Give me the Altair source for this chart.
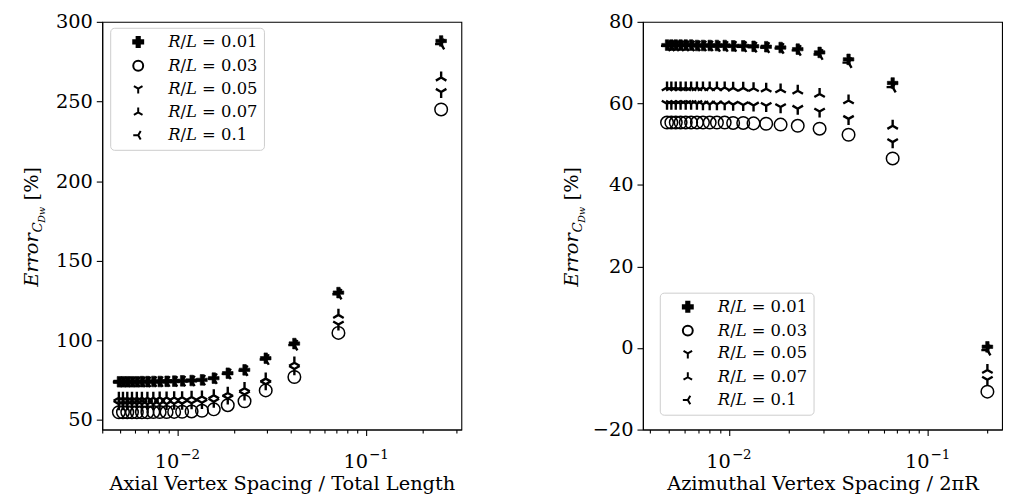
import altair as alt
import pandas as pd

series = ["0.01", "0.03", "0.05", "0.07", "0.1"]

# ---- Left panel: axial vertex spacing / total length
axial_x = [0.25, 0.0714, 0.0417, 0.0294, 0.0227, 0.0185, 0.0156, 0.0135, 0.0119, 0.0106,
           0.00962, 0.00877, 0.00806, 0.00746, 0.00694, 0.00649, 0.00610, 0.00575, 0.00543,
           0.00515, 0.00490]
axial_y_001 = [288, 130, 98, 88.8, 81.5, 79.4, 76.3, 75.2, 74.8, 74.6, 74.4, 74.3, 74.2, 74.2,
               74.1, 74.1, 74.0, 74.0, 74.0, 74.0, 74.0]
axial_y_003 = [245, 104.7, 77.0, 68.6, 61.8, 59.3, 56.7, 55.8, 55.4, 55.2, 55.1, 55.0, 55.0,
               55.0, 54.9, 54.9, 54.9, 54.9, 54.9, 54.9, 54.9]
axial_y_005 = [256, 110, 82, 72.5, 66, 63.5, 61.5, 60.8, 60.5, 60.3, 60.2, 60.1, 60.1, 60.0,
               60.0, 60.0, 60.0, 60.0, 60.0, 60.0, 60.0]
axial_y_007 = [265, 116, 86, 76, 70, 67, 65.5, 64.8, 64.5, 64.3, 64.2, 64.1, 64.1, 64.0,
               64.0, 64.0, 64.0, 64.0, 64.0, 64.0, 64.0]
axial_y_010 = [286, 129, 97, 88, 81, 79, 76, 75, 74.6, 74.4, 74.3, 74.2, 74.1, 74.1, 74.0,
               74.0, 73.9, 73.9, 73.9, 73.9, 73.9]

# ---- Right panel: azimuthal vertex spacing / 2 pi R
azim_x = [0.2, 0.0667, 0.04, 0.0286, 0.0222, 0.0182, 0.0154, 0.0133, 0.0118, 0.0105, 0.00952,
          0.0087, 0.008, 0.0074, 0.0069, 0.00645, 0.00606, 0.00571, 0.0054, 0.00513, 0.00488]
azim_y_001 = [0.3, 65.0, 70.8, 72.5, 73.3, 73.7, 73.9, 74.0, 74.1, 74.1, 74.2, 74.2, 74.2,
              74.2, 74.2, 74.3, 74.3, 74.3, 74.3, 74.3, 74.3]
azim_y_003 = [-10.7, 46.5, 52.3, 53.8, 54.5, 54.8, 55.0, 55.1, 55.2, 55.2, 55.3, 55.3, 55.3,
              55.3, 55.3, 55.3, 55.3, 55.3, 55.3, 55.3, 55.3]
azim_y_005 = [-7.8, 50.5, 56.2, 58.0, 58.7, 59.1, 59.4, 59.5, 59.6, 59.7, 59.8, 59.8, 59.8,
              59.8, 59.9, 59.9, 59.9, 59.9, 59.9, 59.9, 59.9]
azim_y_007 = [-5.4, 54.5, 60.7, 62.3, 63.1, 63.4, 63.6, 63.7, 63.8, 63.8, 63.9, 63.9, 63.9,
              63.9, 63.9, 63.9, 63.9, 63.9, 63.9, 63.9, 63.9]
azim_y_010 = [-0.5, 64.0, 70.0, 72.0, 73.0, 73.5, 73.7, 73.8, 73.9, 74.0, 74.0, 74.0, 74.1,
              74.1, 74.1, 74.1, 74.1, 74.1, 74.1, 74.1, 74.1]

# decade tick labels (10^-2, 10^-1)
decade_values = [0.01, 0.1]
decade_base = ["10", "10"]
decade_exp = ["−2", "−1"]

FONT = "DejaVu Serif"
FS = 19.5
PLUS = ("M-1,-0.32L-0.32,-0.32L-0.32,-1L0.32,-1L0.32,-0.32L1,-0.32L1,0.32L0.32,0.32"
        "L0.32,1L-0.32,1L-0.32,0.32L-1,0.32Z")
TRI_DOWN = "M0,0L0,1M0,0L-0.866,-0.5M0,0L0.866,-0.5"
TRI_UP = "M0,0L0,-1M0,0L-0.866,0.5M0,0L0.866,0.5"
TRI_LEFT = "M0,0L-1,0M0,0L0.5,-0.866M0,0L0.5,0.866"
shapes = [PLUS, "circle", TRI_DOWN, TRI_UP, TRI_LEFT]
fills = ["black", "transparent", "black", "black", "black"]
strokes = ["black"] * 5
styles = [dict(size=115, strokeWidth=0.6), dict(size=160, strokeWidth=1.5),
          dict(size=150, strokeWidth=2.4), dict(size=150, strokeWidth=2.4),
          dict(size=150, strokeWidth=2.4)]

minor_ticks = [m * 10.0 ** e for e in (-3, -2, -1) for m in range(1, 10)]
decade_test = ("abs(datum.value-0.001)<1e-9 || abs(datum.value-0.01)<1e-9 || "
               "abs(datum.value-0.1)<1e-9")

H = 411


def panel(xs, ys_list, xdom, ydom, yticks, xtitle, lx, ly):
    x_ticks = [t for t in minor_ticks if xdom[0] <= t <= xdom[1]]
    xenc = alt.X("x:Q",
                 scale=alt.Scale(type="log", domain=xdom, nice=False),
                 axis=alt.Axis(title=xtitle, values=x_ticks, labels=False,
                               tickSize={"condition": {"test": decade_test, "value": 6},
                                         "value": 3.5},
                               titlePadding=39, grid=False))
    yenc = alt.Y("y:Q", scale=alt.Scale(domain=ydom, nice=False, zero=False),
                 axis=alt.Axis(title=None, values=yticks, grid=False, tickSize=6))
    leg = alt.Legend(title=None, orient="none", legendX=lx, legendY=ly,
                     labelExpr="'𝑅/𝐿 = ' + datum.label")
    shape_scale = alt.Scale(domain=series, range=shapes)
    fill_scale = alt.Scale(domain=series, range=fills)
    stroke_scale = alt.Scale(domain=series, range=strokes)
    layers = []
    for s, ys, st in zip(series, ys_list, styles):
        df = pd.DataFrame({"x": xs, "y": ys, "s": s})
        layers.append(
            alt.Chart(df).mark_point(filled=True, opacity=1, **st).encode(
                x=xenc, y=yenc,
                shape=alt.Shape("s:N", scale=shape_scale, legend=leg),
                fill=alt.Fill("s:N", scale=fill_scale, legend=leg),
                stroke=alt.Stroke("s:N", scale=stroke_scale, legend=leg),
            )
        )
    # decade tick labels with real superscripts
    dec = pd.DataFrame({"x": decade_values, "b": decade_base, "e": decade_exp})
    layers.append(
        alt.Chart(dec).mark_text(font=FONT, fontSize=FS, align="right", baseline="alphabetic",
                                 dx=2, color="black").encode(
            x=xenc, y=alt.value(H + 39), text="b:N")
    )
    layers.append(
        alt.Chart(dec).mark_text(font=FONT, fontSize=13.5, align="left", baseline="alphabetic",
                                 dx=3, color="black").encode(
            x=xenc, y=alt.value(H + 30), text="e:N")
    )
    # y-axis title built from pieces (italic Error with subscript C_Dw, then [%])
    one = pd.DataFrame({"t": [""]})
    pieces = [
        ("Error", FS, "italic", -65, 267),
        ("C", 13.6, "italic", -61, 212.4),
        ("Dw", 9.6, "italic", -58, 202.4),
        ("[%]", FS, "normal", -65, 180),
    ]
    for txt, fs, style, px, py in pieces:
        layers.append(
            alt.Chart(one).mark_text(text=txt, font=FONT, fontSize=fs, fontStyle=style,
                                     angle=270, align="left", baseline="alphabetic",
                                     color="black").encode(x=alt.value(px), y=alt.value(py))
        )
    return alt.layer(*layers).properties(width=362, height=H)


left = panel(axial_x, [axial_y_001, axial_y_003, axial_y_005, axial_y_007, axial_y_010],
             [0.0040, 0.32], [44, 300], [50, 100, 150, 200, 250, 300],
             "Axial Vertex Spacing / Total Length", 8, 6)
right = panel(azim_x, [azim_y_001, azim_y_003, azim_y_005, azim_y_007, azim_y_010],
              [0.00369, 0.237], [-20, 80], [-20, 0, 20, 40, 60, 80],
              "Azimuthal Vertex Spacing / 2πR", 17, 273)

chart = alt.hconcat(left, right, spacing=100).resolve_scale(
    shape="independent", fill="independent", stroke="independent",
    x="independent", y="independent"
).resolve_legend(shape="independent", fill="independent", stroke="independent").properties(
    padding={"left": 13, "top": 1, "right": 5, "bottom": 0}
).configure_view(stroke="black", strokeWidth=1.1).configure_axis(
    labelFont=FONT, titleFont=FONT, labelFontSize=FS, titleFontSize=FS,
    labelColor="black", titleColor="black", domainColor="black", tickColor="black",
    titleFontWeight="normal", labelPadding=4, domainWidth=1.1, tickWidth=1.1
).configure_legend(
    labelFont=FONT, labelFontSize=16.5, labelColor="black", strokeColor="#cccccc",
    fillColor="white", cornerRadius=4, padding=6, rowPadding=5, symbolSize=100,
    symbolStrokeWidth=2, symbolOffset=14, labelOffset=22
)

chart.save("out.html", embed_options={"renderer": "svg", "actions": False})
